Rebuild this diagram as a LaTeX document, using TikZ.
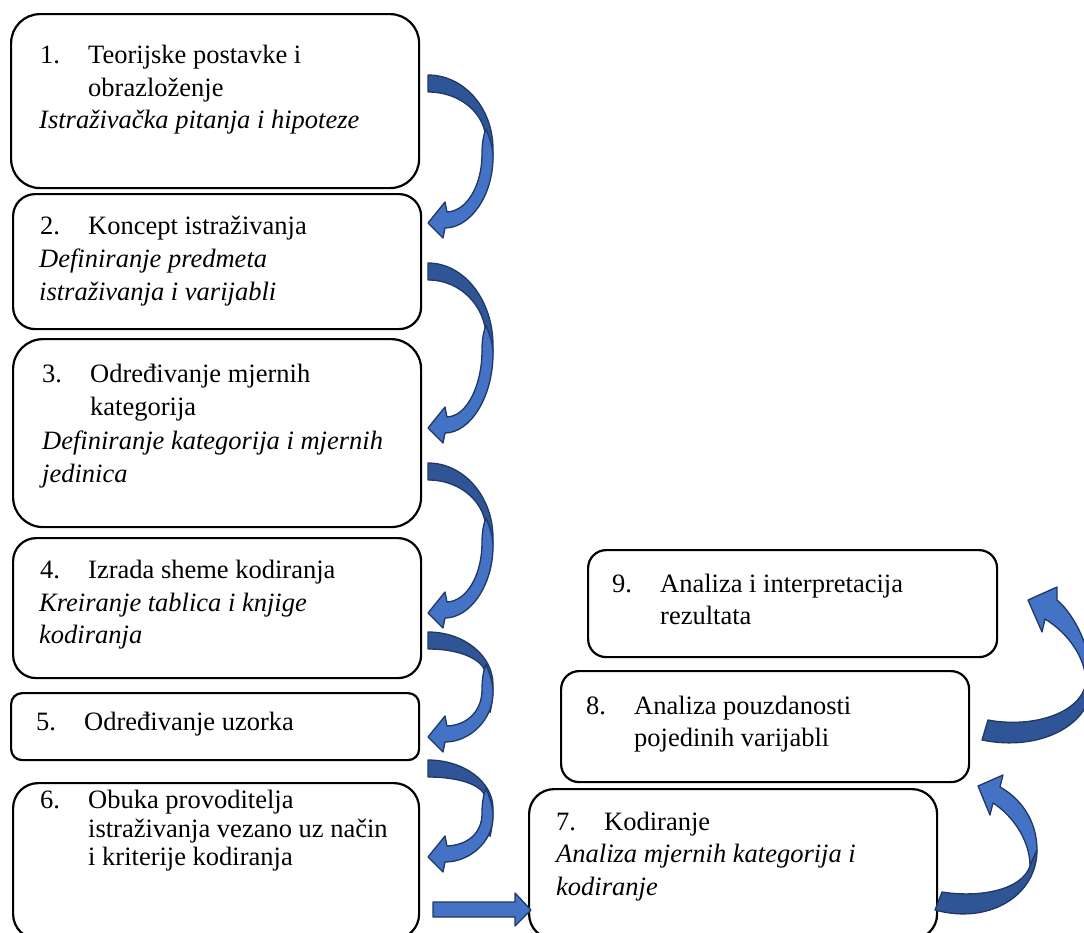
\documentclass[tikz,border=0pt]{standalone}
\usepackage{fontspec}
\setmainfont{Liberation Serif}
\definecolor{lightface}{HTML}{4472C4}
\definecolor{darkface}{HTML}{2F5597}
\definecolor{edgeblue}{HTML}{1F3864}
\tikzset{
  stage/.style={draw=black, line width=2.2pt, anchor=north west, inner sep=0pt, fill=white},
  txt/.style={anchor=base west, inner sep=0pt, font=\fontsize{26.5}{30}\selectfont},
  itxt/.style={txt, font=\fontsize{26.5}{30}\selectfont\itshape},
  lightarr/.style={fill=lightface, draw=edgeblue, line width=1.3pt, line join=round},
  darkarr/.style={fill=darkface, draw=edgeblue, line width=1.3pt, line join=round}
}
% curved arrow on the left column: #1 = tail top y, #2 = tip y
\newcommand{\curvL}[2]{%
  \pgfmathsetmacro{\cya}{#1}%
  \pgfmathsetmacro{\cyt}{#2}%
  \pgfmathsetmacro{\cym}{(#1+#2)/2}%
  \pgfmathsetmacro{\cyb}{#1+17}%
  \pgfmathsetmacro{\cA}{\cym-0.55*(\cym-\cya)}%
  \pgfmathsetmacro{\cB}{\cym+8+0.55*(\cyt-3-\cym)}%
  \pgfmathsetmacro{\cC}{\cym+5+0.4*(\cyt-\cym)}%
  \pgfmathsetmacro{\cD}{\cym-8-0.45*(\cym-\cyb)}%
  % dark (back) face: tail part
  \filldraw[darkarr] (428,\cya) .. controls (464,\cya) and (493,\cA) .. (493,\cym)
     .. controls (493,\cym+10) and (492,\cym+20) .. (490,\cym+28)
     .. controls (488,\cym+10) and (487,\cym) .. (486,\cym-8)
     .. controls (486,\cD) and (462,\cyb) .. (428,\cyb) -- cycle;
  % light (front) face: head part
  \filldraw[lightarr] (486,\cym-20) .. controls (491,\cym-8) and (493,\cym) .. (493,\cym+8)
     .. controls (493,\cB) and (470,\cyt+5) .. (445,\cyt+5)
     -- (443,\cyt+15) -- (428,\cyt) -- (445,\cyt-21) -- (447,\cyt-11)
     .. controls (468,\cyt-12) and (482,\cC) .. (482,\cym+5)
     .. controls (482,\cym-8) and (484,\cym-15) .. cycle;
}
\begin{document}
\begin{tikzpicture}[x=1pt,y=-1pt]
\useasboundingbox (0,0) rectangle (1084,932);
\clip (0,0) rectangle (1084,932);

% boxes
\node[stage, minimum width=408pt, minimum height=174pt, rounded corners=29pt] (b1) at (10,13) {};
\node[stage, minimum width=408pt, minimum height=135pt, rounded corners=22pt] (b2) at (12,193) {};
\node[stage, minimum width=408pt, minimum height=188pt, rounded corners=30pt] (b3) at (12,338) {};
\node[stage, minimum width=408pt, minimum height=140pt, rounded corners=23pt] (b4) at (12,537) {};
\node[stage, minimum width=408pt, minimum height=67pt, rounded corners=11pt] (b5) at (10,692) {};
\node[stage, minimum width=406pt, minimum height=156pt, rounded corners=25pt] (b6) at (12,782) {};
\node[stage, minimum width=409pt, minimum height=107pt, rounded corners=18pt] (b9) at (587,549) {};
\node[stage, minimum width=408pt, minimum height=111pt, rounded corners=18pt] (b8) at (560,670) {};
\node[stage, minimum width=408pt, minimum height=150pt, rounded corners=25pt] (b7) at (528,788) {};

% curved arrows, left column
\curvL{75}{223}
\curvL{263}{428}
\curvL{463}{613}
\curvL{632}{737}
\curvL{760}{857}

% straight arrow 6 -> 7
\filldraw[lightarr] (433,902) -- (515,902) -- (515,893) -- (531,910) -- (515,926) -- (515,917) -- (433,917) -- cycle;

% curved arrow 7 -> 8
\filldraw[lightarr] (1037,850) .. controls (1037,820) and (1020,798) .. (1000,787)
   -- (1003,775) -- (978,786) -- (990,815) -- (993,803)
   .. controls (1012,815) and (1030,840) .. (1030,866) -- cycle;
\filldraw[darkarr] (942,892) .. controls (980,898) and (1022,890) .. (1030,866)
   -- (1037,850) .. controls (1037,895) and (990,925) .. (935,910) -- cycle;

% curved arrow 8 -> 9
\filldraw[lightarr] (1092,683) .. controls (1092,650) and (1075,615) .. (1057,600)
   -- (1057,587) -- (1028,600) -- (1042,632) -- (1045,619)
   .. controls (1068,633) and (1086,658) .. (1086,683) -- cycle;
\filldraw[darkarr] (988,720) .. controls (1030,728) and (1080,715) .. (1086,683)
   -- (1092,683) .. controls (1092,725) and (1040,752) .. (982,740) -- cycle;

% texts
\node[txt] (n1) at (40,63) {1.};
\node[txt] (t1a) at (88,63) {Teorijske postavke i};
\node[txt] (t1b) at (88,96) {obrazloženje};
\node[itxt] (t1c) at (39,128) {Istraživačka pitanja i hipoteze};

\node[txt] (n2) at (40,234) {2.};
\node[txt] (t2a) at (88,234) {Koncept istraživanja};
\node[itxt] (t2b) at (39,267) {Definiranje predmeta};
\node[itxt] (t2c) at (39,300) {istraživanja i varijabli};

\node[txt] (n3) at (42,382) {3.};
\node[txt] (t3a) at (90,382) {Određivanje mjernih};
\node[txt] (t3b) at (90,415) {kategorija};
\node[itxt] (t3c) at (42,449) {Definiranje kategorija i mjernih};
\node[itxt] (t3d) at (42,482) {jedinica};

\node[txt] (n4) at (40,578) {4.};
\node[txt] (t4a) at (88,578) {Izrada sheme kodiranja};
\node[itxt] (t4b) at (39,611) {Kreiranje tablica i knjige};
\node[itxt] (t4c) at (39,643) {kodiranja};

\node[txt] (n5) at (36,730) {5.};
\node[txt] (t5a) at (84,730) {Određivanje uzorka};

\node[txt] (n6) at (40,808) {6.};
\node[txt] (t6a) at (88,808) {Obuka provoditelja};
\node[txt] (t6b) at (88,837) {istraživanja vezano uz način};
\node[txt] (t6c) at (88,865) {i kriterije kodiranja};

\node[txt] (n7) at (556,830) {7.};
\node[txt] (t7a) at (604,830) {Kodiranje};
\node[itxt] (t7b) at (556,862) {Analiza mjernih kategorija i};
\node[itxt] (t7c) at (556,895) {kodiranje};

\node[txt] (n8) at (586,714) {8.};
\node[txt] (t8a) at (634,714) {Analiza pouzdanosti};
\node[txt] (t8b) at (634,746) {pojedinih varijabli};

\node[txt] (n9) at (612,592) {9.};
\node[txt] (t9a) at (660,592) {Analiza i interpretacija};
\node[txt] (t9b) at (660,624) {rezultata};
\end{tikzpicture}
\end{document}
